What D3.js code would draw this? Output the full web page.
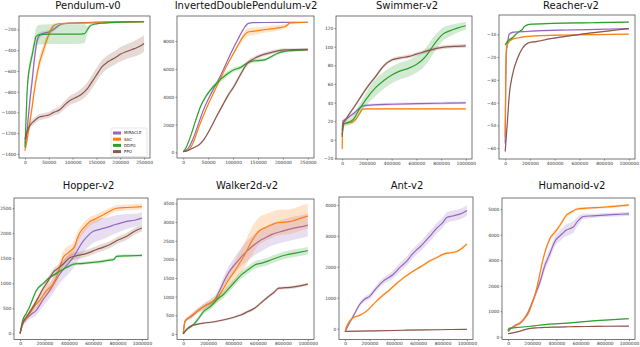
<!DOCTYPE html>
<html>
<head>
<meta charset="utf-8">
<script src="https://cdn.jsdelivr.net/npm/d3@7"></script>
<style>
body { margin: 0; background: #fff; }
</style>
</head>
<body>
<div id="chart"></div>
<script>
// each point: [step in thousands, mean return, spread]
var algos = ["MIRACLE", "SAC", "DDPG", "PPO"];
var algoColors = ["#9467bd", "#ff7f0e", "#2ca02c", "#8c564b"];

var pendMiracle = [[0,-1300,40],[3,-1250,40],[6,-1100,60],[10,-900,80],[15,-700,80],[20,-480,70],[25,-320,50],[30,-260,30],[40,-235,20],[50,-225,20],[60,-200,20],[70,-165,15],[80,-145,10],[100,-138,5],[150,-130,5],[200,-127,5],[250,-125,5]];
var pendSac = [[0,-1370,30],[5,-1250,40],[10,-1100,60],[15,-950,60],[20,-780,60],[25,-640,60],[30,-530,60],[35,-450,60],[40,-380,60],[45,-310,50],[50,-250,40],[55,-200,30],[60,-165,20],[70,-145,10],[100,-140,5],[150,-135,5],[250,-125,5]];
var pendDdpg = [[0,-1340,40],[2,-1100,80],[4,-850,80],[6,-700,70],[10,-560,60],[15,-450,60],[20,-330,60],[23,-270,80],[30,-250,95],[50,-245,95],[80,-245,95],[110,-245,95],[125,-240,90],[130,-210,40],[137,-165,15],[145,-150,10],[160,-140,5],[200,-130,5],[250,-125,5]];
var pendPpo = [[0,-1260,30],[5,-1180,30],[10,-1130,30],[20,-1080,30],[30,-1045,30],[40,-1035,30],[50,-1025,30],[60,-1000,30],[73,-975,35],[85,-920,40],[96,-880,45],[110,-850,50],[120,-820,55],[132,-765,60],[140,-710,65],[150,-640,65],[160,-570,65],[175,-510,65],[190,-470,65],[200,-440,70],[215,-410,70],[230,-385,75],[240,-365,80],[250,-335,80]];

var idpMiracle = [[0,50,20],[10,300,30],[20,1000,40],[30,2000,50],[40,3000,50],[50,3800,50],[60,4500,50],[70,5150,50],[80,5900,50],[90,6700,50],[100,7450,50],[110,8150,50],[120,8800,40],[130,9250,30],[140,9320,20],[200,9340,15],[250,9350,15]];
var idpSac = [[0,50,20],[10,150,30],[20,700,40],[30,1700,50],[40,2600,60],[50,3450,60],[60,4200,70],[70,4950,80],[80,5700,90],[90,6400,100],[100,7050,120],[110,7700,160],[120,8300,220],[130,8650,280],[140,8700,280],[150,8750,250],[170,8850,220],[190,8950,200],[205,9050,150],[215,9300,80],[230,9330,50],[250,9350,40]];
var idpDdpg = [[0,50,20],[5,300,40],[15,1190,80],[25,2300,100],[35,3320,120],[45,4000,140],[55,4500,160],[65,4900,180],[75,5250,200],[85,5550,200],[95,5800,180],[102,5935,160],[115,6100,140],[125,6350,120],[136,6530,120],[150,6600,120],[163,6650,110],[175,6850,100],[190,7120,100],[205,7280,100],[216,7310,90],[250,7360,80]];
var idpPpo = [[0,50,20],[10,150,20],[22,356,30],[32,550,40],[42,950,60],[52,1550,80],[60,2100,100],[69,2730,120],[80,3450,140],[90,4100,150],[102,4750,160],[115,5600,170],[129,6410,170],[140,6700,160],[150,6880,150],[170,7120,140],[190,7300,130],[203,7360,120],[250,7400,110]];

var swimMiracle = [[0,10,2],[5,20,2],[30,22,2],[60,25,2],[100,29,2],[140,34,2],[170,36.5,1.5],[250,37.5,1.5],[400,38.2,1.5],[600,38.8,1.5],[800,39.3,1.5],[1000,39.6,1.5]];
var swimSac = [[0,-10,1],[3,12,2],[10,17,2],[40,18,2],[80,19,2],[110,22,2],[140,28,2],[165,33,1.5],[200,33.2,1],[500,33.3,1],[1000,33.3,1]];
var swimDdpg = [[0,3,2],[10,16,3],[30,18,3],[54,19,3],[90,22,4],[135,32,5],[190,43,7],[270,56,9],[340,64,9],[405,70,9],[470,74,9],[540,77,9],[600,81,9],[650,86,9],[700,94,9],[730,100,9],[770,107,8],[810,113,7],[870,117,6],[930,120,5],[1000,122.5,4]];
var swimPpo = [[0,5,1],[10,18,2],[30,22,2],[54,27,2],[95,35,2],[135,43,2],[200,56,2],[270,68,2],[340,80,2],[405,86,2],[470,88,2],[540,89.6,2],[600,92,2],[675,95,2],[740,97.5,2],[810,99.3,2],[900,100.3,2],[1000,101,2]];

var reachMiracle = [[0,-58,1.5],[5,-30,1.5],[10,-18,1],[19,-14,1],[32,-10,0.8],[59,-9.1,0.5],[150,-8.8,0.4],[249,-8.5,0.4],[500,-8.1,0.3],[750,-7.8,0.3],[1000,-7.5,0.3]];
var reachSac = [[0,-55,1],[4,-30,1],[11,-15.4,0.8],[25,-13.8,0.5],[46,-12.5,0.5],[100,-11.6,0.4],[249,-10.7,0.3],[500,-10.3,0.3],[750,-10.1,0.3],[1000,-9.9,0.3]];
var reachDdpg = [[0,-14.7,0.8],[20,-13,0.8],[59,-11.5,0.8],[90,-9.8,0.6],[113,-8.8,0.5],[140,-7.8,0.5],[154,-6.6,0.4],[195,-5.6,0.3],[384,-5.2,0.3],[700,-4.9,0.3],[1000,-4.6,0.3]];
var reachPpo = [[0,-61.5,1],[19,-47.6,1],[32,-37.3,1],[59,-27.8,0.8],[100,-20.5,0.6],[140,-16.1,0.5],[190,-13.7,0.4],[249,-13.2,0.4],[380,-11.8,0.3],[519,-10.7,0.3],[650,-9.7,0.3],[789,-8.8,0.3],[900,-8.1,0.3],[1000,-7.5,0.3]];

var hopMiracle = [[0,0,30],[20,180,50],[50,290,60],[90,380,80],[132,461,100],[190,680,130],[242,855,150],[285,1030,170],[325,1184,180],[380,1350,200],[435,1513,220],[480,1700,230],[518,1842,230],[560,1960,230],[600,2039,230],[655,2080,220],[711,2118,200],[790,2180,180],[876,2237,150],[940,2260,130],[1000,2303,120]];
var hopSac = [[0,0,30],[22,197,50],[50,300,60],[77,395,70],[120,550,80],[160,658,90],[215,850,100],[270,987,110],[310,1200,120],[353,1513,130],[400,1620,130],[449,1743,130],[470,1900,120],[490,2007,110],[530,2130,100],[573,2237,90],[620,2290,80],[656,2335,80],[720,2420,70],[793,2500,60],[880,2515,60],[1000,2533,60]];
var hopDdpg = [[0,0,20],[20,250,30],[50,400,30],[77,526,30],[105,700,30],[132,855,30],[190,1000,30],[242,1118,30],[300,1200,30],[353,1283,30],[400,1340,30],[435,1382,30],[520,1400,30],[600,1420,30],[656,1434,30],[720,1460,30],[770,1480,30],[793,1540,30],[880,1550,30],[1000,1559,30]];
var hopPpo = [[0,0,20],[20,200,30],[50,320,40],[105,526,50],[150,720,60],[187,888,60],[230,1050,70],[270,1217,70],[310,1300,70],[353,1382,70],[408,1513,70],[460,1550,70],[518,1579,70],[570,1620,70],[628,1678,70],[680,1720,70],[738,1776,70],[800,1860,70],[876,1941,70],[940,2040,70],[1000,2105,70]];

var walkMiracle = [[0,0,20],[14,330,40],[41,420,50],[70,480,60],[110,600,60],[150,700,70],[192,790,80],[219,826,90],[260,950,100],[301,1227,120],[340,1500,150],[370,1673,170],[411,1851,200],[450,2000,230],[493,2163,260],[548,2330,280],[603,2475,300],[660,2580,300],[712,2671,300],[780,2740,300],[877,2832,310],[940,2870,310],[1000,2921,310]];
var walkSac = [[0,0,20],[14,336,40],[41,425,50],[70,500,60],[110,603,70],[150,700,80],[192,781,90],[240,880,100],[274,960,120],[320,1200,150],[356,1405,180],[385,1550,220],[411,1673,260],[450,1880,300],[493,2118,340],[520,2300,360],[548,2475,370],[575,2620,370],[603,2742,370],[658,2850,360],[712,2930,350],[767,2990,340],[822,3000,330],[877,3030,330],[940,3100,330],[1000,3161,330]];
var walkDdpg = [[0,0,20],[27,113,30],[55,180,40],[82,247,50],[120,400,60],[164,603,70],[219,737,80],[280,950,90],[320,1050,100],[356,1183,100],[410,1380,100],[466,1584,100],[520,1720,100],[575,1851,100],[630,1900,100],[685,1958,100],[740,2030,100],[822,2118,100],[900,2170,100],[1000,2234,100]];
var walkPpo = [[0,0,10],[27,120,15],[55,202,20],[100,250,20],[164,291,25],[240,320,25],[329,380,30],[400,440,30],[466,514,35],[520,600,40],[575,692,40],[630,850,40],[685,1004,40],[730,1120,40],[767,1227,40],[820,1240,40],[877,1254,40],[940,1290,40],[1000,1334,40]];

var antMiracle = [[0,-100,30],[36,183,50],[80,500,60],[118,774,70],[160,950,80],[201,1043,90],[250,1280,100],[311,1527,110],[394,1750,130],[450,1980,140],[504,2172,150],[550,2400,150],[587,2548,150],[630,2700,160],[669,2871,170],[710,3050,170],[752,3247,170],[800,3420,170],[835,3591,170],[880,3640,170],[917,3677,170],[960,3730,170],[1000,3817,170]];
var antSac = [[0,-100,20],[8,22,30],[63,344,40],[118,430,40],[174,559,40],[256,882,40],[311,1080,40],[366,1258,40],[420,1450,40],[477,1634,40],[530,1780,40],[587,1925,40],[640,2050,40],[697,2194,40],[750,2290,40],[807,2409,40],[860,2450,40],[917,2495,40],[960,2600,40],[1000,2742,40]];
var antDdpg = [];
var antPpo = [[0,-90,15],[250,-70,15],[500,-50,15],[750,-35,15],[1000,-20,15]];

var humMiracle = [[0,200,30],[20,300,40],[60,450,50],[101,540,60],[140,750,80],[170,1000,100],[200,1350,120],[225,1654,140],[245,1900,160],[266,2174,180],[286,2500,200],[307,2826,200],[327,3050,200],[348,3281,200],[375,3607,200],[395,3800,200],[416,3900,210],[450,4050,220],[485,4193,230],[520,4250,230],[545,4330,220],[567,4479,200],[595,4620,150],[622,4714,100],[700,4740,80],[800,4770,80],[900,4795,80],[1000,4818,80]];
var humSac = [[0,250,30],[5,325,40],[33,352,40],[70,450,40],[101,547,50],[140,740,60],[170,937,70],[190,1180,80],[211,1458,90],[238,1914,100],[258,2350,110],[279,2826,120],[293,3100,120],[307,3346,110],[327,3620,100],[348,3867,100],[375,4030,100],[403,4193,100],[440,4450,90],[485,4779,80],[520,4880,70],[567,5000,60],[650,5040,50],[786,5078,50],[900,5120,50],[1000,5169,50]];
var humDdpg = [[0,221,20],[10,313,20],[50,350,20],[101,370,20],[184,410,20],[238,440,20],[300,470,20],[375,500,20],[450,520,20],[512,540,20],[600,580,20],[700,620,20],[800,650,20],[900,680,20],[1000,703,20]];
var humPpo = [[0,117,15],[50,160,15],[101,221,15],[140,280,15],[184,326,15],[250,350,15],[300,365,15],[375,378,15],[500,390,15],[650,400,15],[800,410,15],[1000,417,15]];

// tick labels
var shortSteps = [0, 50000, 100000, 150000, 200000, 250000];
var longSteps = [0, 200000, 400000, 600000, 800000, 1000000];
var pendTicks = [-1400, -1200, -1000, -800, -600, -400, -200];
var idpTicks = [0, 2000, 4000, 6000, 8000];
var swimTicks = [-20, 0, 20, 40, 60, 80, 100, 120];
var reachTicks = [-60, -50, -40, -30, -20, -10];
var hopTicks = [0, 500, 1000, 1500, 2000, 2500];
var walkTicks = [0, 500, 1000, 1500, 2000, 2500, 3000, 3500];
var antTicks = [0, 1000, 2000, 3000, 4000];
var humTicks = [0, 1000, 2000, 3000, 4000, 5000];

var W = 640, H = 347;
var svg = d3.select("#chart").append("svg")
  .attr("width", W)
  .attr("height", H);

// layout: box = [left, top, right, bottom]
var panels = [
  {title: "Pendulum-v0", series: [pendMiracle, pendSac, pendDdpg, pendPpo], xt: shortSteps, yt: pendTicks,
   xd: [-12500, 262500], yd: [-1440, -70], box: [19, 16, 150, 158], tx: 88, ty: 9, legend: true},
  {title: "InvertedDoublePendulum-v2", series: [idpMiracle, idpSac, idpDdpg, idpPpo], xt: shortSteps, yt: idpTicks,
   xd: [-12500, 262500], yd: [-400, 9800], box: [177, 16, 314, 158], tx: 246, ty: 9},
  {title: "Swimmer-v2", series: [swimMiracle, swimSac, swimDdpg, swimPpo], xt: longSteps, yt: swimTicks,
   xd: [-50000, 1050000], yd: [-20.6, 133], box: [336, 16, 472, 159], tx: 407, ty: 9},
  {title: "Reacher-v2", series: [reachMiracle, reachSac, reachDdpg, reachPpo], xt: longSteps, yt: reachTicks,
   xd: [-50000, 1050000], yd: [-64.8, -1.5], box: [499, 15, 635, 159], tx: 571, ty: 9},
  {title: "Hopper-v2", series: [hopMiracle, hopSac, hopDdpg, hopPpo], xt: longSteps, yt: hopTicks,
   xd: [-50000, 1050000], yd: [-120, 2705], box: [14, 198, 148, 339.5], tx: 88.5, ty: 189},
  {title: "Walker2d-v2", series: [walkMiracle, walkSac, walkDdpg, walkPpo], xt: longSteps, yt: walkTicks,
   xd: [-50000, 1050000], yd: [-150, 3620], box: [177, 199, 314, 339.5], tx: 247, ty: 189},
  {title: "Ant-v2", series: [antMiracle, antSac, antDdpg, antPpo], xt: longSteps, yt: antTicks,
   xd: [-50000, 1050000], yd: [-350, 4255], box: [339, 197, 473, 339.5], tx: 407, ty: 189},
  {title: "Humanoid-v2", series: [humMiracle, humSac, humDdpg, humPpo], xt: longSteps, yt: humTicks,
   xd: [-50000, 1050000], yd: [-110, 5440], box: [502, 198, 635, 339.5], tx: 572, ty: 189}
];

var fmt = d3.format("d");

panels.forEach(function(p, pi) {
  var b = p.box;
  var x = d3.scaleLinear().domain(p.xd).range([b[0], b[2]]);
  var y = d3.scaleLinear().domain(p.yd).range([b[3], b[1]]);

  var g = svg.append("g");

  g.append("clipPath").attr("id", "clip" + pi)
    .append("rect")
    .attr("x", b[0]).attr("y", b[1])
    .attr("width", b[2] - b[0]).attr("height", b[3] - b[1]);

  var plot = g.append("g").attr("clip-path", "url(#clip" + pi + ")");

  var line = d3.line()
    .x(function(d) { return x(d[0] * 1000); })
    .y(function(d) { return y(d[1]); })
    .curve(d3.curveMonotoneX);
  var band = d3.area()
    .x(function(d) { return x(d[0] * 1000); })
    .y0(function(d) { return y(d[1] - d[2]); })
    .y1(function(d) { return y(d[1] + d[2]); })
    .curve(d3.curveMonotoneX);

  p.series.forEach(function(s, si) {
    if (!s.length) return;
    plot.append("path")
      .attr("d", band(s))
      .attr("fill", algoColors[si])
      .attr("fill-opacity", 0.22);
    plot.append("path")
      .attr("d", line(s))
      .attr("fill", "none")
      .attr("stroke", algoColors[si])
      .attr("stroke-width", 1.2);
  });

  // 軸
  var xa = g.append("g")
    .attr("transform", "translate(0," + b[3] + ")")
    .call(d3.axisBottom(x).tickValues(p.xt).tickFormat(fmt).tickSize(1.5).tickPadding(1));
  var ya = g.append("g")
    .attr("transform", "translate(" + b[0] + ",0)")
    .call(d3.axisLeft(y).tickValues(p.yt).tickFormat(fmt).tickSize(1.5).tickPadding(1.2));
  [xa, ya].forEach(function(a) {
    a.select(".domain").remove();
    a.selectAll("line").attr("stroke", "#444").attr("stroke-width", 0.6);
    a.selectAll("text").attr("fill", "#333")
      .attr("font-family", "DejaVu Sans")
      .attr("font-size", "4.4px");
  });

  // 枠
  g.append("rect")
    .attr("x", b[0]).attr("y", b[1])
    .attr("width", b[2] - b[0]).attr("height", b[3] - b[1])
    .attr("fill", "none")
    .attr("stroke", "#555")
    .attr("stroke-width", 0.8);

  g.append("text")
    .attr("x", p.tx).attr("y", p.ty)
    .attr("text-anchor", "middle")
    .attr("font-family", "DejaVu Sans")
    .attr("font-size", "10px")
    .attr("fill", "#111")
    .text(p.title);

  if (p.legend) {
    var lx = b[2] - 39, ly = b[3] - 30;
    var lg = g.append("g").attr("transform", "translate(" + lx + "," + ly + ")");
    lg.append("rect")
      .attr("width", 36).attr("height", 28.5)
      .attr("rx", 1)
      .attr("fill", "#fff").attr("fill-opacity", 0.85)
      .attr("stroke", "#ccc").attr("stroke-width", 0.5);
    algos.forEach(function(a, i) {
      lg.append("rect")
        .attr("x", 2).attr("y", 3.5 + i * 6.2)
        .attr("width", 8).attr("height", 3)
        .attr("fill", algoColors[i]);
      lg.append("text")
        .attr("x", 13).attr("y", 6.4 + i * 6.2)
        .attr("font-family", "DejaVu Sans")
        .attr("font-size", "4px")
        .attr("fill", "#222")
        .text(a);
    });
  }
});
</script>
</body>
</html>
